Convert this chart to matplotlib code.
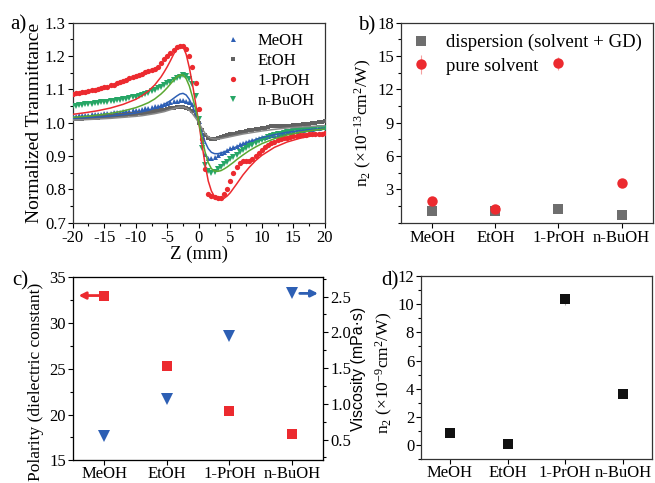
import numpy as np
import matplotlib
matplotlib.use("Agg")
import matplotlib.pyplot as plt
from matplotlib.ticker import MultipleLocator

plt.rcParams['font.family'] = ['Liberation Serif', 'DejaVu Serif']
plt.rcParams['mathtext.fontset'] = 'custom'
plt.rcParams['mathtext.rm'] = 'Liberation Serif'
plt.rcParams['mathtext.it'] = 'Liberation Serif:italic'
plt.rcParams['axes.unicode_minus'] = False

# ---------------- Panel a data ----------------
z_data = np.arange(-20, 20.01, 0.5)
meoh_T = [1.020, 1.021, 1.022, 1.022, 1.023, 1.024, 1.025, 1.025, 1.026, 1.027, 1.028, 1.029, 1.030, 1.031, 1.032, 1.033,
          1.034, 1.035, 1.036, 1.037, 1.038, 1.039, 1.041, 1.043, 1.045, 1.047, 1.049, 1.051, 1.053, 1.056, 1.059, 1.062,
          1.064, 1.066, 1.068, 1.068, 1.066, 1.062, 1.055, 1.040, 1.005, 0.945, 0.905, 0.895, 0.893, 0.896, 0.902, 0.908,
          0.913, 0.918, 0.923, 0.927, 0.931, 0.935, 0.938, 0.942, 0.945, 0.948, 0.951, 0.953, 0.956, 0.958, 0.960, 0.962,
          0.964, 0.966, 0.968, 0.970, 0.972, 0.973, 0.975, 0.976, 0.977, 0.978, 0.980, 0.981, 0.982, 0.983, 0.985, 0.986, 0.988]
etoh_T = [1.010, 1.011, 1.011, 1.012, 1.013, 1.013, 1.014, 1.015, 1.015, 1.016, 1.017, 1.018, 1.019, 1.020, 1.021, 1.022,
          1.023, 1.024, 1.025, 1.026, 1.027, 1.028, 1.029, 1.030, 1.031, 1.032, 1.034, 1.035, 1.037, 1.039, 1.041, 1.043,
          1.045, 1.047, 1.048, 1.047, 1.045, 1.041, 1.034, 1.022, 1.000, 0.978, 0.962, 0.954, 0.951, 0.952, 0.955, 0.958,
          0.960, 0.962, 0.965, 0.967, 0.969, 0.971, 0.973, 0.975, 0.977, 0.979, 0.980, 0.982, 0.983, 0.985, 0.987, 0.989,
          0.990, 0.990, 0.989, 0.989, 0.990, 0.991, 0.992, 0.993, 0.994, 0.995, 0.996, 0.997, 0.998, 0.999, 1.001, 1.002, 1.004]
proh_T = [1.087, 1.089, 1.088, 1.091, 1.093, 1.095, 1.097, 1.098, 1.101, 1.103, 1.106, 1.108, 1.112, 1.114, 1.118, 1.122,
          1.126, 1.129, 1.133, 1.136, 1.139, 1.143, 1.147, 1.151, 1.155, 1.158, 1.160, 1.166, 1.178, 1.190, 1.200, 1.210,
          1.218, 1.226, 1.231, 1.230, 1.222, 1.200, 1.168, 1.118, 1.040, 0.950, 0.860, 0.785, 0.779, 0.776, 0.773, 0.775,
          0.785, 0.800, 0.825, 0.850, 0.868, 0.880, 0.884, 0.885, 0.885, 0.890, 0.900, 0.910, 0.918, 0.926, 0.932, 0.938,
          0.943, 0.947, 0.950, 0.953, 0.955, 0.957, 0.959, 0.960, 0.962, 0.963, 0.964, 0.965, 0.966, 0.966, 0.967, 0.967, 0.968]
buoh_T = [1.050, 1.051, 1.052, 1.053, 1.055, 1.056, 1.057, 1.058, 1.060, 1.061, 1.062, 1.063, 1.064, 1.065, 1.067, 1.068,
          1.070, 1.072, 1.074, 1.076, 1.078, 1.081, 1.084, 1.087, 1.090, 1.094, 1.098, 1.103, 1.108, 1.113, 1.118, 1.123,
          1.128, 1.133, 1.138, 1.142, 1.140, 1.132, 1.115, 1.080, 1.010, 0.925, 0.872, 0.855, 0.850, 0.852, 0.860, 0.868,
          0.876, 0.883, 0.890, 0.897, 0.904, 0.911, 0.917, 0.923, 0.929, 0.934, 0.939, 0.944, 0.948, 0.952, 0.956, 0.959,
          0.962, 0.965, 0.967, 0.969, 0.971, 0.973, 0.975, 0.976, 0.977, 0.978, 0.979, 0.980, 0.981, 0.982, 0.983, 0.984, 0.985]

z_fit = [-20, -18, -16, -14, -12, -10, -9, -8, -7, -6, -5.5, -5, -4.5, -4, -3.5, -3, -2.5, -2, -1.5, -1, -0.5, 0,
         0.5, 1, 1.5, 2, 2.5, 3, 3.5, 4, 4.5, 5, 5.5, 6, 7, 8, 9, 10, 12, 14, 16, 18, 20]
proh_fit = [1.025, 1.030, 1.036, 1.044, 1.055, 1.070, 1.081, 1.095, 1.113, 1.137, 1.152, 1.168, 1.186, 1.205, 1.222, 1.232,
            1.228, 1.205, 1.165, 1.115, 1.058, 1.000, 0.935, 0.875, 0.825, 0.795, 0.778, 0.771, 0.770, 0.773, 0.780,
            0.790, 0.803, 0.816, 0.843, 0.866, 0.886, 0.902, 0.926, 0.942, 0.953, 0.961, 0.967]
buoh_fit = [1.016, 1.019, 1.023, 1.028, 1.035, 1.045, 1.052, 1.060, 1.071, 1.086, 1.095, 1.105, 1.116, 1.127, 1.137, 1.143,
            1.143, 1.132, 1.110, 1.077, 1.040, 1.000, 0.955, 0.912, 0.880, 0.862, 0.855, 0.854, 0.856, 0.861, 0.867,
            0.874, 0.881, 0.889, 0.903, 0.916, 0.927, 0.937, 0.952, 0.963, 0.971, 0.977, 0.981]
meoh_fit = [1.013, 1.015, 1.017, 1.020, 1.024, 1.029, 1.033, 1.037, 1.043, 1.050, 1.055, 1.060, 1.066, 1.073, 1.080, 1.086,
            1.088, 1.083, 1.070, 1.050, 1.026, 1.000, 0.970, 0.942, 0.922, 0.911, 0.907, 0.907, 0.909, 0.912, 0.916,
            0.920, 0.924, 0.928, 0.936, 0.943, 0.949, 0.955, 0.964, 0.971, 0.976, 0.980, 0.983]
etoh_fit = [1.008, 1.009, 1.011, 1.013, 1.016, 1.019, 1.021, 1.024, 1.027, 1.031, 1.033, 1.036, 1.039, 1.042, 1.045, 1.047,
            1.047, 1.044, 1.037, 1.027, 1.014, 1.000, 0.983, 0.968, 0.958, 0.953, 0.951, 0.951, 0.952, 0.954, 0.956,
            0.958, 0.960, 0.962, 0.966, 0.969, 0.972, 0.975, 0.980, 0.984, 0.987, 0.989, 0.991]

# ---------------- Panels b-d data ----------------
solvents = ['MeOH', 'EtOH', '1-PrOH', 'n-BuOH']
n2_dispersion = [1.05, 1.03, 1.23, 0.69]
n2_pure = [1.98, 1.23, 14.34, 3.6]
n2_pure_err = [0.0, 0.0, 0.6, 0.0]
polarity = [33.0, 25.3, 20.4, 17.9]
viscosity = [0.544, 1.074, 1.945, 2.544]
n2_gd = [0.87, 0.10, 10.34, 3.61]
n2_gd_err = [0.0, 0.0, 0.4, 0.0]

RED = '#ec2a2f'
BLUE = '#2d5fb4'
GREEN = '#27a666'
GREEN_LINE = '#5aa832'
GRAY = '#626262'

fig = plt.figure(figsize=(6.55, 4.83), dpi=100)
TICK = 12
CAT = 12


def style(ax):
    ax.tick_params(which='both', direction='out', top=False, right=False, labelsize=TICK, pad=1.5)
    ax.tick_params(which='major', length=3.5, width=0.8)
    ax.tick_params(which='minor', length=2.0, width=0.8)
    for s in ax.spines.values():
        s.set_linewidth(0.9)
        s.set_color('#333333')


# ---------- a ----------
ax = fig.add_axes([0.111, 0.539, 0.385, 0.414])
ax.plot(z_data, meoh_T, '^', color=BLUE, ms=3.6, mew=0, label='MeOH', zorder=3)
ax.plot(z_data, etoh_T, 's', color=GRAY, ms=3.4, mew=0, label='EtOH', zorder=3)
ax.plot(z_data, proh_T, 'o', color=RED, ms=3.8, mew=0, label='1-PrOH', zorder=3)
ax.plot(z_data, buoh_T, 'v', color=GREEN, ms=3.8, mew=0, label='n-BuOH', zorder=3)
ax.plot(z_fit, meoh_fit, '-', color=BLUE, lw=1.1, zorder=4)
ax.plot(z_fit, etoh_fit, '-', color='#8a8a8a', lw=1.1, zorder=4)
ax.plot(z_fit, proh_fit, '-', color=RED, lw=1.1, zorder=4)
ax.plot(z_fit, buoh_fit, '-', color=GREEN_LINE, lw=1.1, zorder=4)
ax.set_xlim(-20, 20)
ax.set_ylim(0.7, 1.3)
ax.xaxis.set_major_locator(MultipleLocator(5))
ax.xaxis.set_minor_locator(MultipleLocator(2.5))
ax.yaxis.set_major_locator(MultipleLocator(0.1))
ax.yaxis.set_minor_locator(MultipleLocator(0.05))
style(ax)
ax.set_xlabel('Z (mm)', fontsize=13.5, labelpad=0)
ax.set_ylabel('Normalized Tranmittance', fontsize=14, labelpad=1)
ax.legend(loc='upper right', frameon=False, fontsize=12, handletextpad=0.9,
          labelspacing=0.25, borderaxespad=0.2, markerscale=1.0, handlelength=1.2)
fig.text(0.016, 0.948, 'a)', fontsize=15, va='center')

# ---------- b ----------
ax = fig.add_axes([0.612, 0.539, 0.385, 0.414])
xb = np.arange(len(solvents))
ax.plot(xb, n2_dispersion, 's', color='#6e6e6e', ms=6.5, mew=0, label='dispersion (solvent + GD)', zorder=3)
ax.errorbar(xb, n2_pure, yerr=n2_pure_err, fmt='o', color=RED, ms=7.5, mew=0,
            ecolor='#f4a0a0', elinewidth=0.8, capsize=2, label='pure solvent', zorder=3)
ax.set_xlim(-0.5, 3.5)
ax.set_ylim(0, 18)
ax.set_xticks(xb)
ax.set_xticklabels(solvents, fontsize=CAT)
ax.set_yticks([3, 6, 9, 12, 15, 18])
ax.yaxis.set_minor_locator(MultipleLocator(1.5))
style(ax)
ax.set_ylabel(r'n$_2$ (×10$^{-13}$cm$^2$/W)', fontsize=12.5, labelpad=2)
ax.legend(loc='upper left', frameon=False, fontsize=13.5, handletextpad=0.8,
          labelspacing=0.35, borderaxespad=0.2, handlelength=1.0)
fig.text(0.546, 0.946, 'b)', fontsize=15, va='center')

# ---------- c ----------
ax = fig.add_axes([0.111, 0.047, 0.3826, 0.379])
xc = np.arange(len(solvents))
ax.plot(xc, polarity, 's', color=RED, ms=7, mew=0, zorder=3)
ax.set_xlim(-0.5, 3.5)
ax.set_ylim(15, 35)
ax.set_xticks(xc)
ax.set_xticklabels(solvents, fontsize=CAT)
ax.yaxis.set_major_locator(MultipleLocator(5))
ax.yaxis.set_minor_locator(MultipleLocator(2.5))
style(ax)
ax.tick_params(axis='x', pad=0.5)
ax.set_ylabel('Polarity (dielectric constant)', fontsize=12.5, labelpad=2)
ax.yaxis.set_label_coords(-0.115, 0.43)
ax.annotate('', xy=(-0.45, polarity[0]), xytext=(-0.02, polarity[0]),
            arrowprops=dict(arrowstyle='-|>', color=RED, lw=2, mutation_scale=10))
ax2 = ax.twinx()
ax2.plot(xc, viscosity, 'v', color=BLUE, ms=8, mew=0, zorder=3)
ax2.set_ylim(0.21, 2.77)
ax2.yaxis.set_major_locator(MultipleLocator(0.5))
ax2.yaxis.set_minor_locator(MultipleLocator(0.25))
ax2.tick_params(which='both', direction='out', left=False, right=True, labelsize=TICK, pad=1.5)
ax2.tick_params(which='major', length=3.5, width=0.8)
ax2.tick_params(which='minor', length=2.0, width=0.8)
ax2.set_ylabel('Viscosity (mPa·s)', fontsize=11.5, family=['Liberation Sans', 'DejaVu Sans'], labelpad=0)
ax2.annotate('', xy=(3.46, viscosity[3]), xytext=(3.08, viscosity[3]),
             arrowprops=dict(arrowstyle='-|>', color=BLUE, lw=2, mutation_scale=10))
fig.text(0.018, 0.418, 'c)', fontsize=15, va='center')

# ---------- d ----------
ax = fig.add_axes([0.643, 0.049, 0.352, 0.380])
xd = np.arange(len(solvents))
ax.errorbar(xd, n2_gd, yerr=n2_gd_err, fmt='s', color='#111111', ms=7, mew=0,
            ecolor='#aaaaaa', elinewidth=0.8, capsize=2, zorder=3)
ax.set_xlim(-0.5, 3.5)
ax.set_ylim(-1, 12)
ax.set_xticks(xd)
ax.set_xticklabels(solvents, fontsize=CAT)
ax.yaxis.set_major_locator(MultipleLocator(2))
ax.yaxis.set_minor_locator(MultipleLocator(1))
style(ax)
ax.tick_params(axis='x', pad=0.5)
ax.set_ylabel(r'n$_2$ (×10$^{-9}$cm$^2$/W)', fontsize=12.5, labelpad=2)
ax.yaxis.set_label_coords(-0.115, 0.47)
fig.text(0.582, 0.418, 'd)', fontsize=15, va='center')

fig.savefig('out.png', dpi=100)
